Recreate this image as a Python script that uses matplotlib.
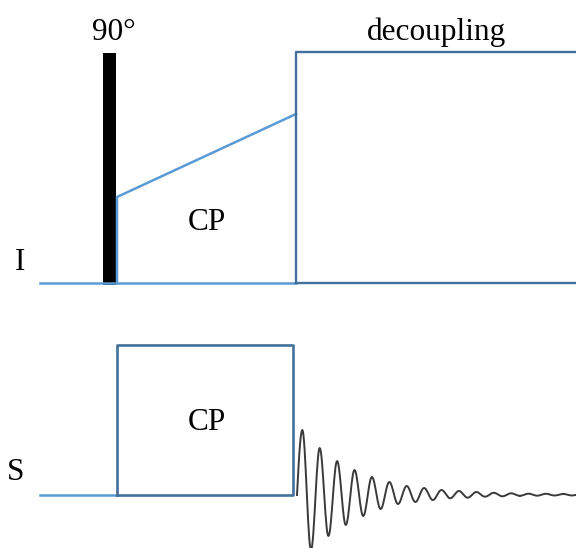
import numpy as np
import matplotlib.pyplot as plt

# pixel-style layout: x to the right, y downward (image coordinates)
W, H = 576, 548

# I channel
I_BASE = 283
PULSE_90 = (103, 116, 53)          # left, right, top
CP_RAMP_X = [117, 117, 296]
CP_RAMP_Y = [I_BASE, 197, 114]
DECOUPLE = (296, 600, 52)           # left, right (off canvas), top

# S channel
S_BASE = 495
S_CP_BOX = (117, 293, 345)          # left, right, top

# FID extrema (pixels from baseline)
FID_START = 297
FID_FIRST_PEAK = 302.3
FID_HALF_PERIOD = 8.7
fid_peaks = [65, 47, 34, 25, 18, 13, 9, 7, 5, 4, 3, 2.2, 1.7, 1.3, 1.2, 1.0]
fid_troughs = [55, 41, 30, 21, 14, 9, 7, 5, 3.3, 2.7, 1.7, 1.3, 0.8, 0.7, 0.5, 0.5]

LIGHT = '#5b9bd5'
DARK = '#41719c'
FONT = 'Liberation Serif'
FS = 22.5


def fid_curve():
    """Join the read extrema with half-cosine arcs"""
    ext = []
    for p, t in zip(fid_peaks, fid_troughs):
        ext += [p, -t]
    xs = [np.linspace(FID_START, FID_FIRST_PEAK, 8)]
    ys = [ext[0] * np.sin(np.linspace(0, np.pi / 2, 8))]
    for k in range(len(ext) - 1):
        x0 = FID_FIRST_PEAK + k * FID_HALF_PERIOD
        t = np.linspace(0, 1, 16)
        a, b = ext[k], ext[k + 1]
        xs.append(x0 + t * FID_HALF_PERIOD)
        ys.append((a + b) / 2 + (a - b) / 2 * np.cos(np.pi * t))
    x = np.concatenate(xs)
    y = np.concatenate(ys)
    keep = x <= W
    x, y = x[keep], y[keep]
    # flatten tail to the edge
    x = np.append(x, W)
    y = np.append(y, 0)
    return x, S_BASE - y


fig = plt.figure(figsize=(W / 100, H / 100), dpi=100)
ax = fig.add_axes([0, 0, 1, 1])
ax.set_xlim(0, W)
ax.set_ylim(H, 0)
ax.axis('off')

# I channel
ax.plot([40, 296], [I_BASE, I_BASE], color=LIGHT, lw=1.8)
ax.plot(CP_RAMP_X, CP_RAMP_Y, color=LIGHT, lw=1.8)
l, r, top = DECOUPLE
ax.plot([l, l, r], [I_BASE, top, top], color=DARK, lw=1.7)
ax.plot([l, r], [I_BASE, I_BASE], color=DARK, lw=1.7)
l, r, top = PULSE_90
ax.fill_between([l, r], [top, top], [I_BASE + 2, I_BASE + 2], color='black', lw=0)

# S channel
ax.plot([40, 117], [S_BASE, S_BASE], color=LIGHT, lw=1.8)
l, r, top = S_CP_BOX
ax.plot([l, l, r, r, l], [S_BASE, top, top, S_BASE, S_BASE], color=DARK, lw=1.9)
fx, fy = fid_curve()
ax.plot(fx, fy, color='#3a3a3a', lw=1.4)

# labels
ax.text(114, 40, '90°', fontsize=FS, family=FONT, ha='center', va='baseline')
ax.text(437, 40, 'decoupling', fontsize=FS, family=FONT, ha='center', va='baseline')
ax.text(207, 230, 'CP', fontsize=FS, family=FONT, ha='center', va='baseline')
ax.text(20, 270, 'I', fontsize=FS, family=FONT, ha='center', va='baseline')
ax.text(207, 430, 'CP', fontsize=FS, family=FONT, ha='center', va='baseline')
ax.text(16, 480, 'S', fontsize=FS, family=FONT, ha='center', va='baseline')

plt.savefig('out.png', dpi=100)
plt.close()
